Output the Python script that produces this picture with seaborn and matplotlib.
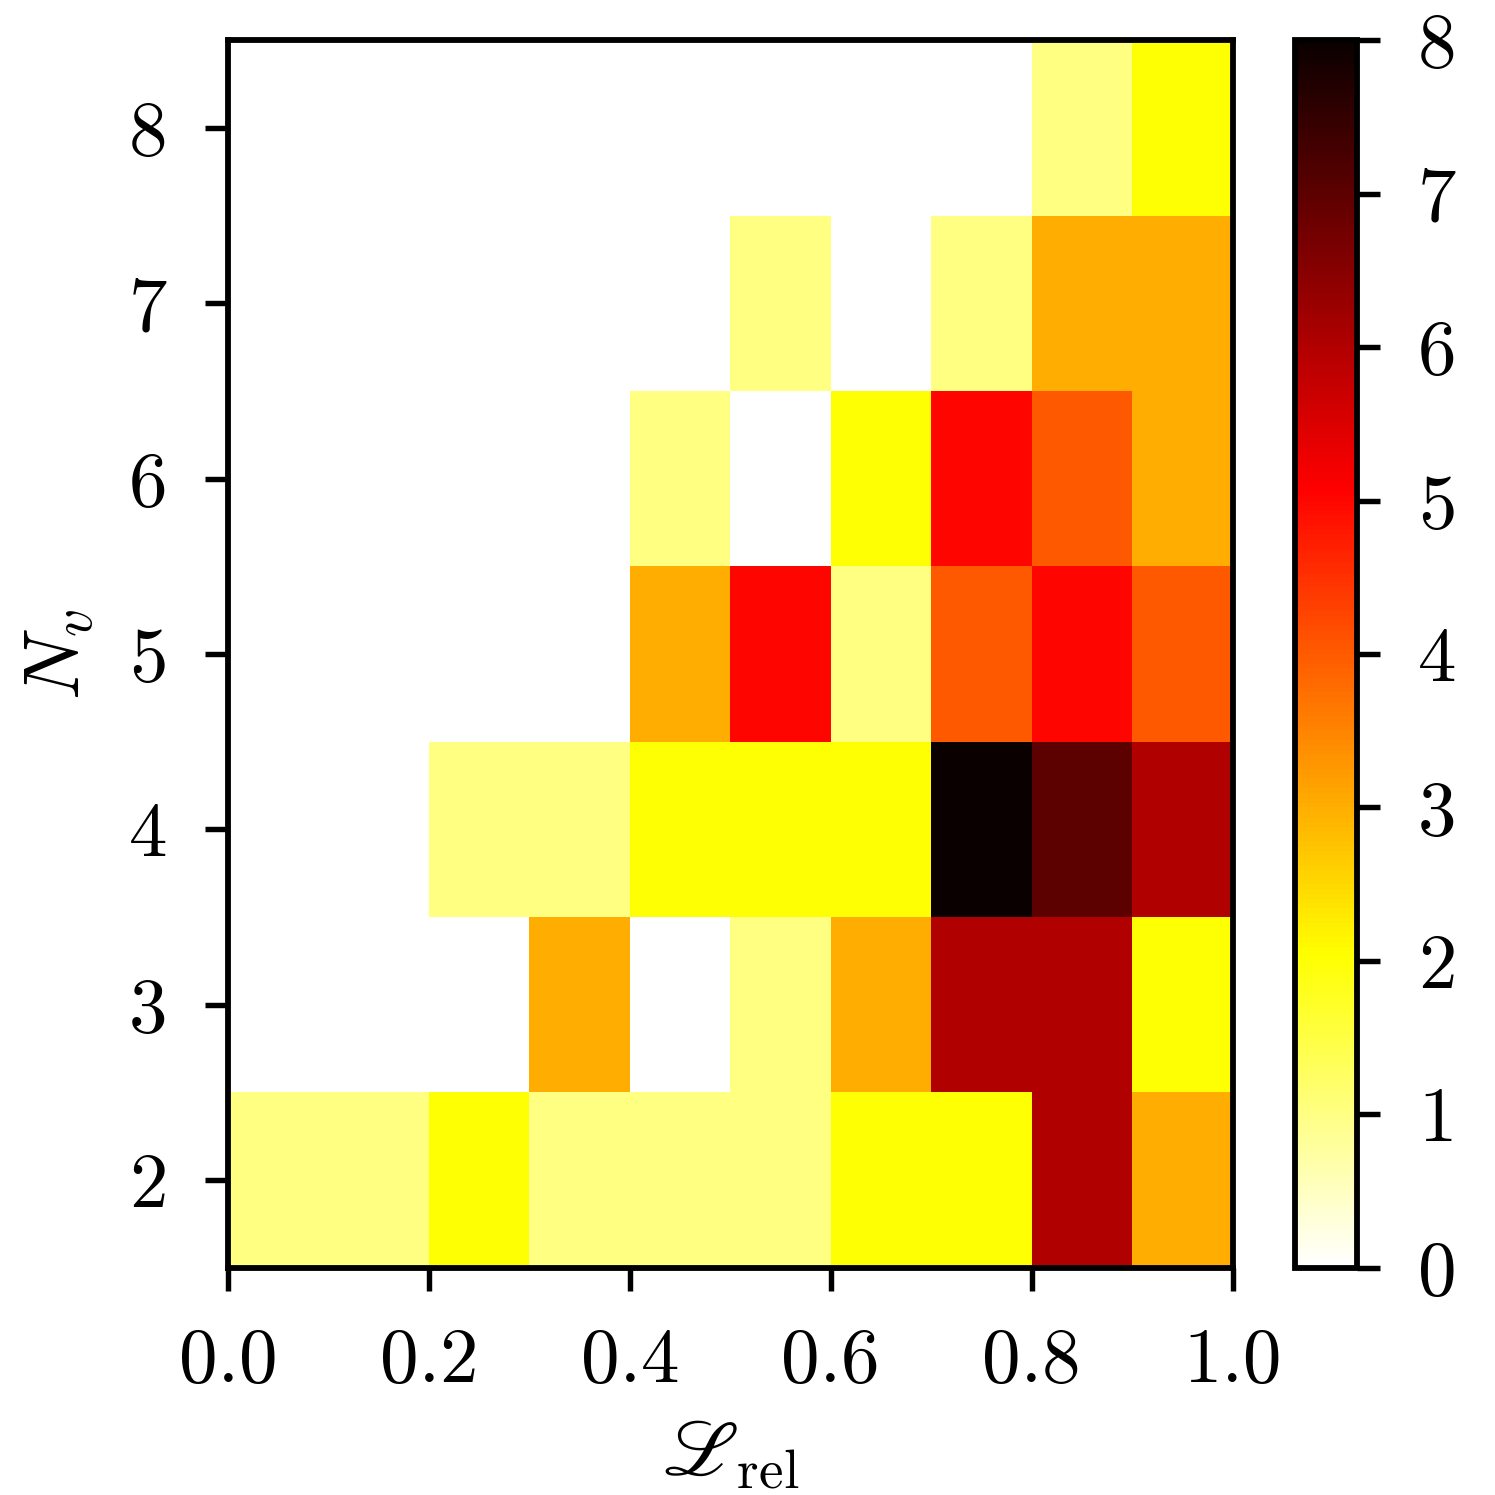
import numpy as np
import pandas as pd
import matplotlib
matplotlib.use("Agg")
import matplotlib.pyplot as plt
import seaborn as sns

# Bin edges
x_edges = [0.0, 0.1, 0.2, 0.3, 0.4, 0.5, 0.6, 0.7, 0.8, 0.9, 1.0]
y_edges = [1.5, 2.5, 3.5, 4.5, 5.5, 6.5, 7.5, 8.5]
nv_values = [2, 3, 4, 5, 6, 7, 8]
x_centers = [0.05, 0.15, 0.25, 0.35, 0.45, 0.55, 0.65, 0.75, 0.85, 0.95]

# Counts per row (N_v), by L_rel bin
counts_nv2 = [1, 1, 2, 1, 1, 1, 2, 2, 6, 3]
counts_nv3 = [0, 0, 0, 3, 0, 1, 3, 6, 6, 2]
counts_nv4 = [0, 0, 1, 1, 2, 2, 2, 8, 7, 6]
counts_nv5 = [0, 0, 0, 0, 3, 5, 1, 4, 5, 4]
counts_nv6 = [0, 0, 0, 0, 1, 0, 2, 5, 4, 3]
counts_nv7 = [0, 0, 0, 0, 0, 1, 0, 1, 3, 3]
counts_nv8 = [0, 0, 0, 0, 0, 0, 0, 0, 1, 2]

rows = [counts_nv2, counts_nv3, counts_nv4, counts_nv5, counts_nv6, counts_nv7, counts_nv8]
recs = []
for nv, row in zip(nv_values, rows):
    for xc, c in zip(x_centers, row):
        if c > 0:
            recs.append({"L": xc, "Nv": nv, "w": c})
df = pd.DataFrame(recs)

sns.set_style("ticks")
plt.rcParams["mathtext.fontset"] = "cm"
plt.rcParams["font.family"] = ["cmr10", "DejaVu Serif"]
plt.rcParams["axes.formatter.use_mathtext"] = True
plt.rcParams["axes.unicode_minus"] = False
for k in ["text.color", "axes.labelcolor", "xtick.color", "ytick.color", "axes.edgecolor"]:
    plt.rcParams[k] = "black"

fig = plt.figure(figsize=(1495 / 300, 1495 / 300), dpi=300)
ax = fig.add_axes([0.1525, 0.152, 0.672, 0.821])
cax = fig.add_axes([0.8665, 0.152, 0.0415, 0.821])

sns.histplot(data=df, x="L", y="Nv", weights="w", bins=[x_edges, y_edges],
             cmap="hot_r", vmin=0, vmax=8, cbar=True, cbar_ax=cax, ax=ax)

ax.set_xlim(0, 1)
ax.set_ylim(1.5, 8.5)
ax.set_xticks([0.0, 0.2, 0.4, 0.6, 0.8, 1.0])
ax.set_xticklabels(["0.0", "0.2", "0.4", "0.6", "0.8", "1.0"])
ax.set_yticks(nv_values)
ax.set_yticklabels([str(v) for v in nv_values])
ax.set_xlabel(r"$\mathscr{L}_{\rm rel}$", fontsize=19, labelpad=5)
ax.set_ylabel(r"$N_v$", fontsize=19, labelpad=8)
ax.tick_params(axis="both", labelsize=18.5, width=1.3, length=5.5, pad=9,
               direction="out", colors="black")
for s in ax.spines.values():
    s.set_linewidth(1.4)
    s.set_visible(True)
    s.set_color("black")

cax.set_yticks(range(0, 9))
cax.set_yticklabels([str(i) for i in range(0, 9)])
cax.tick_params(labelsize=18.5, width=1.3, length=5.5, pad=9, direction="out",
                colors="black")
for s in cax.spines.values():
    s.set_linewidth(1.4)
    s.set_color("black")

fig.savefig("out.png", dpi=300, facecolor="white")
